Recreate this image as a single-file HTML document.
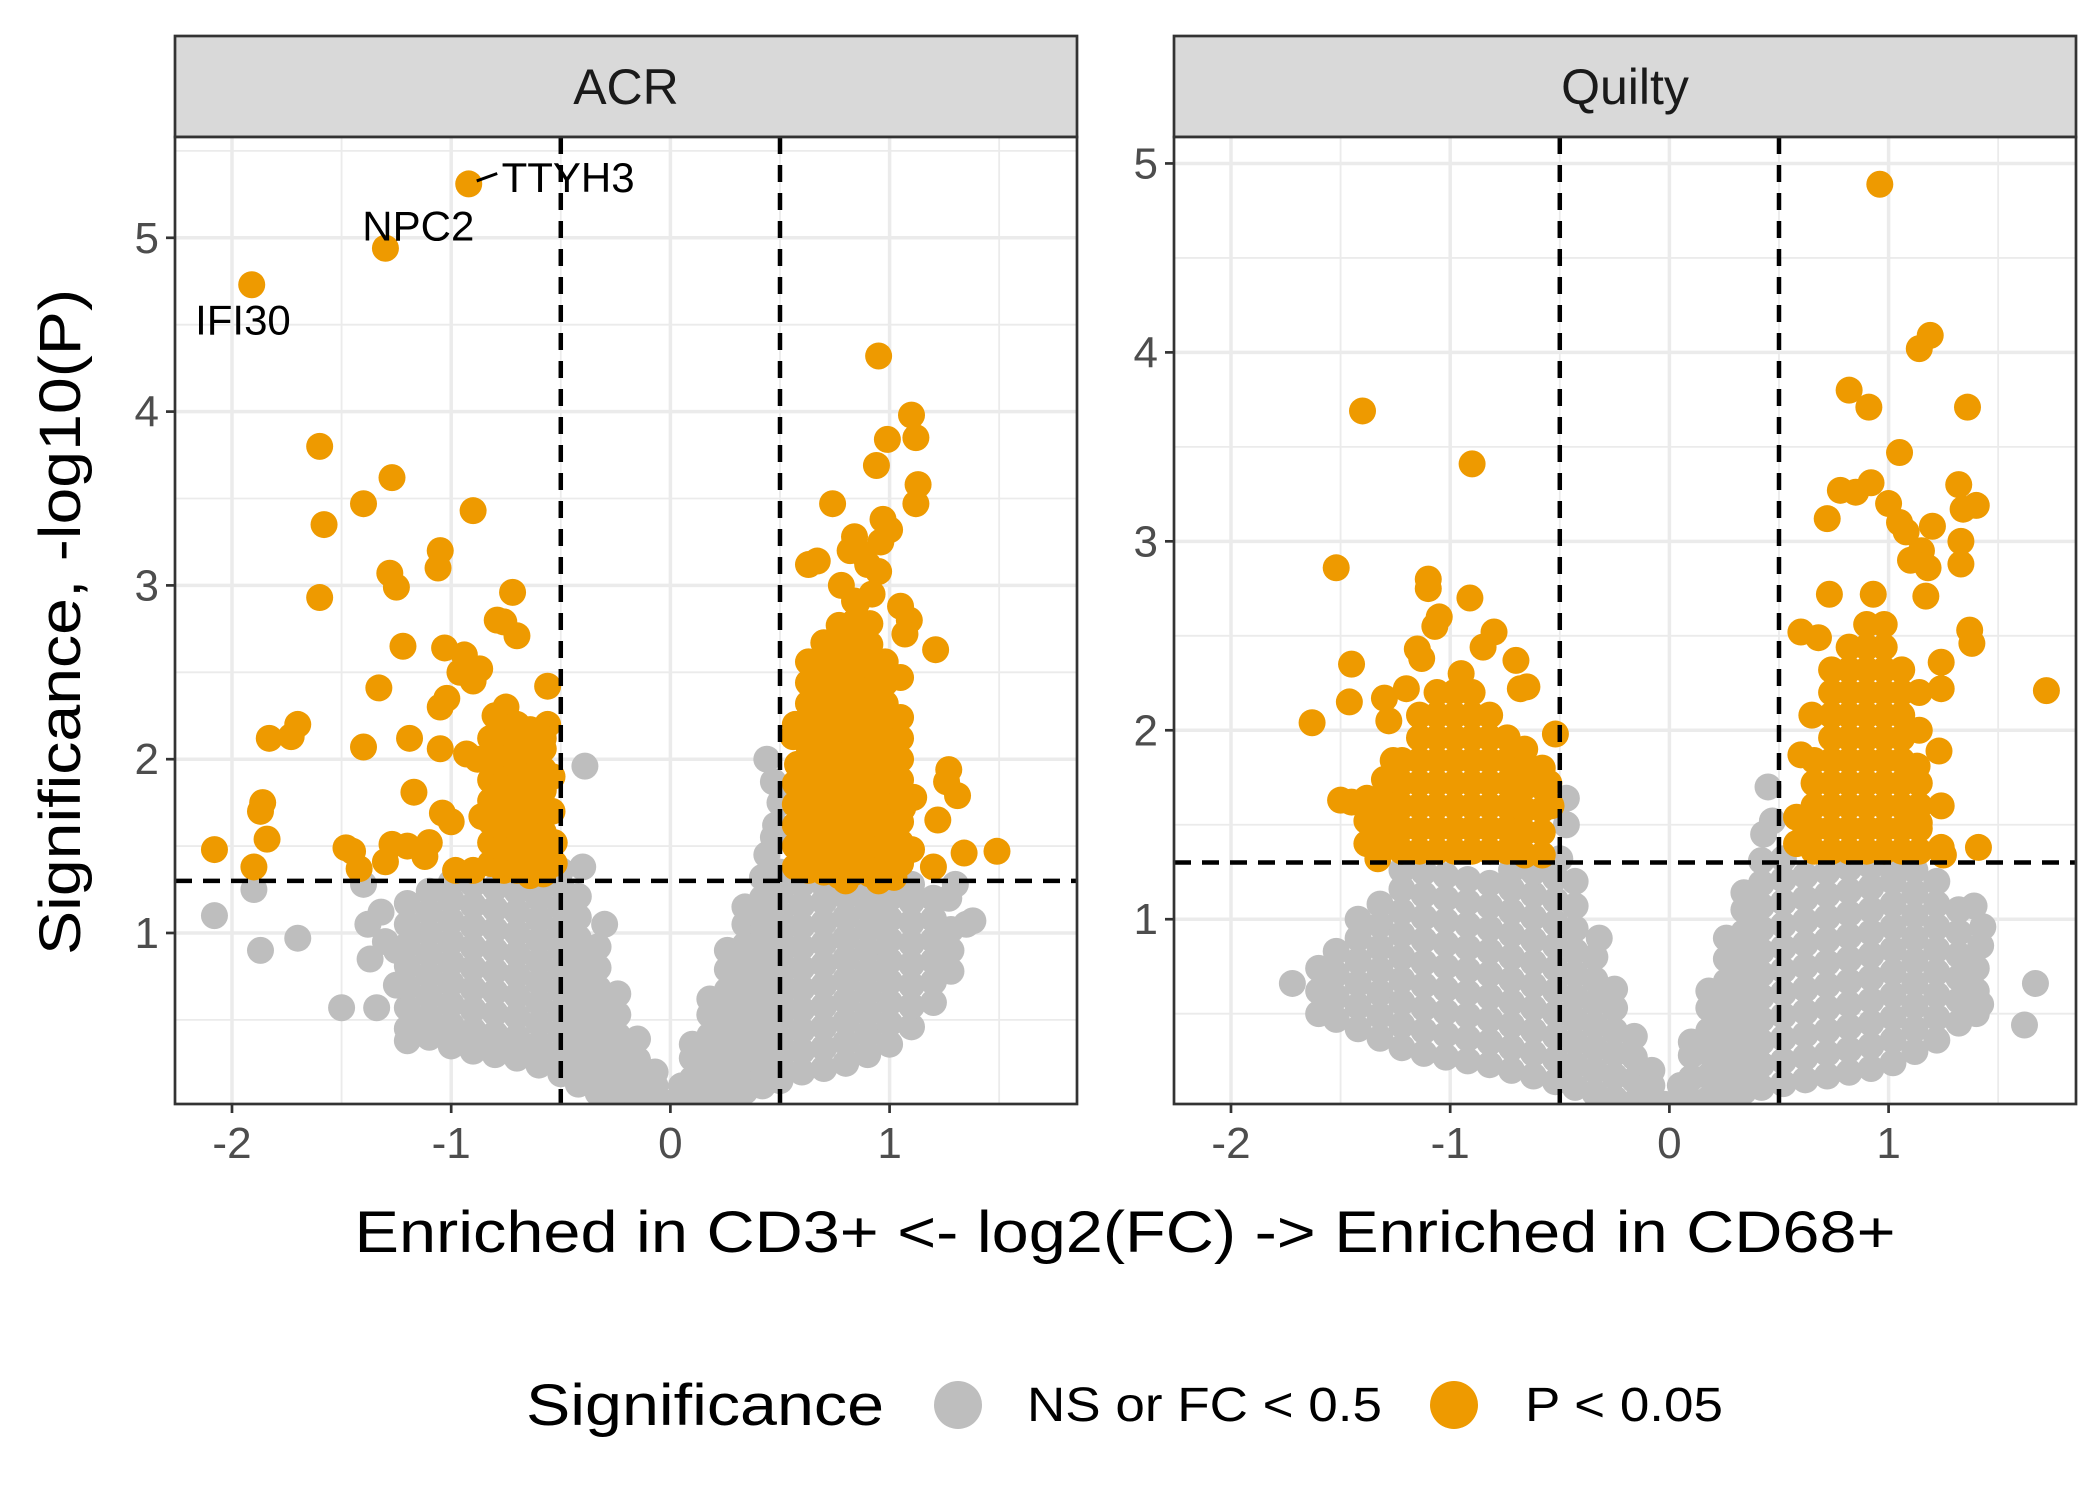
<!DOCTYPE html>
<html><head><meta charset="utf-8"><style>
body{margin:0;background:#fff;}
svg{display:block;font-family:"Liberation Sans",Arial,sans-serif;}
</style></head><body>
<svg id="chart" width="2100" height="1500" viewBox="0 0 2100 1500" xmlns="http://www.w3.org/2000/svg"></svg>
<script>
// ---------------- DATA ----------------
const panelTitles = ["ACR", "Quilty"];
const xTicks = [-2, -1, 0, 1];
const yTicks = [1, 2, 3, 4, 5];
const fcCut = 0.5;
const pCut = 1.3;
const legendLabels = ["NS or FC < 0.5", "P < 0.05"];
const labelGenes = ["IFI30", "NPC2", "TTYH3"];
const labelGeneXY = [[-1.91, 4.73], [-1.30, 4.94], [-0.92, 5.31]];

const acrGrayStr =
"-1.2,0.45 -1.2,0.57 -1.2,0.69 -1.2,0.81 -1.2,0.93 -1.2,1.05 -1.2,1.17 " +
"-1.1,0.4 -1.1,0.52 -1.1,0.64 -1.1,0.76 -1.1,0.88 -1.1,1.0 -1.1,1.12 -1.1,1.24 " +
"-1.0,0.35 -1.0,0.47 -1.0,0.59 -1.0,0.71 -1.0,0.83 -1.0,0.95 -1.0,1.07 -1.0,1.19 -1.0,1.29 " +
"-0.9,0.32 -0.9,0.44 -0.9,0.56 -0.9,0.68 -0.9,0.8 -0.9,0.92 -0.9,1.04 -0.9,1.16 -0.9,1.28 " +
"-0.8,0.3 -0.8,0.42 -0.8,0.54 -0.8,0.66 -0.8,0.78 -0.8,0.9 -0.8,1.02 -0.8,1.14 -0.8,1.26 " +
"-0.7,0.28 -0.7,0.4 -0.7,0.52 -0.7,0.64 -0.7,0.76 -0.7,0.88 -0.7,1.0 -0.7,1.12 -0.7,1.24 " +
"-0.6,0.24 -0.6,0.36 -0.6,0.48 -0.6,0.6 -0.6,0.72 -0.6,0.84 -0.6,0.96 -0.6,1.08 -0.6,1.2 -0.6,1.3 " +
"-0.5,0.19 -0.5,0.31 -0.5,0.43 -0.5,0.55 -0.5,0.67 -0.5,0.79 -0.5,0.91 -0.5,1.03 -0.5,1.15 -0.5,1.27 -0.5,1.36 " +
"-0.42,0.13 -0.42,0.25 -0.42,0.37 -0.42,0.49 -0.42,0.61 -0.42,0.73 -0.42,0.85 -0.42,0.97 -0.42,1.09 -0.42,1.21 -0.4,1.38 -0.39,1.96 " +
"-0.33,0.08 -0.33,0.2 -0.33,0.32 -0.33,0.44 -0.33,0.56 -0.33,0.68 -0.33,0.8 -0.33,0.92 -0.3,1.05 " +
"-0.24,0.05 -0.24,0.17 -0.24,0.29 -0.24,0.41 -0.24,0.53 -0.24,0.65 " +
"-0.15,0.03 -0.15,0.15 -0.15,0.27 -0.15,0.39 -0.07,0.02 -0.07,0.12 -0.07,0.2 -0.02,0.02 " +
"-1.15,0.46 -1.05,0.42 -0.95,0.38 -0.85,0.36 -0.75,0.34 -0.65,0.3 -0.55,0.26 -1.25,0.7 -1.25,0.9 " +
"0.05,0.02 0.05,0.12 0.1,0.04 0.1,0.16 0.1,0.28 0.1,0.36 " +
"0.18,0.05 0.18,0.17 0.18,0.29 0.18,0.41 0.18,0.53 0.18,0.62 " +
"0.26,0.07 0.26,0.19 0.26,0.31 0.26,0.43 0.26,0.55 0.26,0.67 0.26,0.79 0.26,0.9 " +
"0.34,0.09 0.34,0.21 0.34,0.33 0.34,0.45 0.34,0.57 0.34,0.69 0.34,0.81 0.34,0.93 0.34,1.05 0.34,1.15 " +
"0.42,0.12 0.42,0.24 0.42,0.36 0.42,0.48 0.42,0.6 0.42,0.72 0.42,0.84 0.42,0.96 0.42,1.08 0.42,1.2 0.42,1.32 0.44,1.45 " +
"0.44,2.0 0.47,1.87 0.5,1.75 0.48,1.62 0.47,1.55 " +
"0.5,0.15 0.5,0.27 0.5,0.39 0.5,0.51 0.5,0.63 0.5,0.75 0.5,0.87 0.5,0.99 0.5,1.11 0.5,1.23 0.5,1.35 " +
"0.6,0.2 0.6,0.32 0.6,0.44 0.6,0.56 0.6,0.68 0.6,0.8 0.6,0.92 0.6,1.04 0.6,1.16 0.6,1.28 " +
"0.7,0.22 0.7,0.34 0.7,0.46 0.7,0.58 0.7,0.7 0.7,0.82 0.7,0.94 0.7,1.06 0.7,1.18 0.7,1.28 " +
"0.8,0.25 0.8,0.37 0.8,0.49 0.8,0.61 0.8,0.73 0.8,0.85 0.8,0.97 0.8,1.09 0.8,1.21 0.8,1.29 " +
"0.9,0.3 0.9,0.42 0.9,0.54 0.9,0.66 0.9,0.78 0.9,0.9 0.9,1.02 0.9,1.14 0.9,1.26 " +
"1.0,0.36 1.0,0.48 1.0,0.6 1.0,0.72 1.0,0.84 1.0,0.96 1.0,1.08 1.0,1.2 1.0,1.29 " +
"1.1,0.46 1.1,0.58 1.1,0.7 1.1,0.82 1.1,0.94 1.1,1.06 1.1,1.18 1.1,1.28 " +
"1.2,0.6 1.2,0.72 1.2,0.84 1.2,0.96 1.2,1.08 1.2,1.2 1.28,0.78 1.28,0.9 1.28,1.02 1.27,1.2 1.3,1.28 " +
"1.35,1.05 1.38,1.07 1.25,0.9 " +
"-2.08,1.1 -1.9,1.25 -1.87,0.9 -1.7,0.97 -1.5,0.57 -1.34,0.57 -1.2,0.38 -1.38,1.05 -1.37,0.85 -1.4,1.28 -1.32,1.12 -1.3,0.95";

const acrOrangeStr =
"-1.91,4.73 -1.3,4.94 -0.92,5.31 -1.6,3.8 -1.58,3.35 -1.6,2.93 -1.4,3.47 -1.27,3.62 -1.28,3.07 -1.25,2.99 " +
"-1.22,2.65 -1.33,2.41 -1.4,2.07 -1.19,2.12 -1.17,1.81 -1.05,3.2 -1.06,3.1 -0.9,3.43 -0.72,2.96 -0.76,2.79 " +
"-0.79,2.8 -0.7,2.71 -1.03,2.64 -0.94,2.6 -0.96,2.5 -0.87,2.52 -1.02,2.35 -1.05,2.3 -0.9,2.45 -0.56,2.42 " +
"-1.05,2.06 -0.93,2.03 -0.88,2.0 -1.83,2.12 -1.7,2.2 -1.73,2.13 -1.86,1.75 -1.87,1.7 -1.84,1.54 -2.08,1.48 " +
"-1.9,1.38 -1.48,1.49 -1.45,1.47 -1.42,1.37 -1.3,1.41 -1.27,1.51 -1.2,1.5 -1.1,1.52 -1.12,1.44 -1.04,1.69 " +
"-1.0,1.64 -0.98,1.36 -0.86,1.67 -0.9,1.36 -0.75,1.55 -0.65,1.4 -0.56,2.2 -0.58,2.12 -0.75,2.3 -0.8,2.25 " +
"-0.82,1.4 -0.82,1.52 -0.82,1.64 -0.82,1.76 -0.82,1.88 -0.82,2.0 -0.82,2.12 " +
"-0.76,1.36 -0.76,1.48 -0.76,1.6 -0.76,1.72 -0.76,1.84 -0.76,1.96 -0.76,2.08 -0.76,2.2 " +
"-0.7,1.36 -0.7,1.48 -0.7,1.6 -0.7,1.72 -0.7,1.84 -0.7,1.96 -0.7,2.08 -0.7,2.2 " +
"-0.64,1.33 -0.64,1.45 -0.64,1.57 -0.64,1.69 -0.64,1.81 -0.64,1.93 -0.64,2.05 -0.64,2.17 " +
"-0.58,1.34 -0.58,1.46 -0.58,1.58 -0.58,1.7 -0.58,1.82 -0.58,1.94 -0.58,2.06 -0.53,1.4 -0.53,1.52 -0.54,1.7 -0.54,1.9 " +
"0.95,4.32 1.1,3.98 1.12,3.85 0.99,3.84 0.94,3.69 1.13,3.58 1.12,3.47 0.74,3.47 0.97,3.38 1.0,3.32 0.84,3.28 " +
"0.82,3.2 0.88,3.18 0.96,3.25 0.63,3.12 0.67,3.14 0.78,3.0 0.85,2.9 1.05,2.88 1.09,2.8 1.07,2.72 1.21,2.63 " +
"1.05,2.47 1.27,1.94 1.26,1.87 1.31,1.79 1.22,1.65 1.11,1.78 1.06,1.72 1.49,1.47 1.34,1.46 1.2,1.38 1.1,1.48 " +
"0.57,2.2 0.56,2.13 0.58,1.97 0.95,3.08 0.9,3.12 0.92,2.95 " +
"0.57,1.38 0.57,1.5 0.57,1.62 0.57,1.74 0.57,1.86 " +
"0.63,1.36 0.63,1.48 0.63,1.6 0.63,1.72 0.63,1.84 0.63,1.96 0.63,2.08 0.63,2.2 0.63,2.32 0.63,2.44 0.63,2.56 " +
"0.7,1.35 0.7,1.47 0.7,1.59 0.7,1.71 0.7,1.83 0.7,1.95 0.7,2.07 0.7,2.19 0.7,2.31 0.7,2.43 0.7,2.55 0.7,2.67 " +
"0.77,1.33 0.77,1.45 0.77,1.57 0.77,1.69 0.77,1.81 0.77,1.93 0.77,2.05 0.77,2.17 0.77,2.29 0.77,2.41 0.77,2.53 0.77,2.65 0.77,2.77 " +
"0.84,1.35 0.84,1.47 0.84,1.59 0.84,1.71 0.84,1.83 0.84,1.95 0.84,2.07 0.84,2.19 0.84,2.31 0.84,2.43 0.84,2.55 0.84,2.67 0.84,2.79 0.84,2.91 " +
"0.91,1.34 0.91,1.46 0.91,1.58 0.91,1.7 0.91,1.82 0.91,1.94 0.91,2.06 0.91,2.18 0.91,2.3 0.91,2.42 0.91,2.54 0.91,2.66 0.91,2.78 " +
"0.98,1.36 0.98,1.48 0.98,1.6 0.98,1.72 0.98,1.84 0.98,1.96 0.98,2.08 0.98,2.2 0.98,2.32 0.98,2.44 0.98,2.56 " +
"1.05,1.4 1.05,1.52 1.05,1.64 1.05,1.76 1.05,1.88 1.05,2.0 1.05,2.12 1.05,2.24 0.8,1.3 0.95,1.3 1.02,1.32";

const quiltyGrayStr =
"-1.72,0.66 -1.6,0.5 -1.6,0.62 -1.6,0.74 -1.52,0.47 -1.52,0.59 -1.52,0.71 -1.52,0.83 " +
"-1.42,0.42 -1.42,0.54 -1.42,0.66 -1.42,0.78 -1.42,0.9 -1.42,1.0 " +
"-1.32,0.37 -1.32,0.49 -1.32,0.61 -1.32,0.73 -1.32,0.85 -1.32,0.97 -1.32,1.08 " +
"-1.22,0.32 -1.22,0.44 -1.22,0.56 -1.22,0.68 -1.22,0.8 -1.22,0.92 -1.22,1.04 -1.22,1.16 -1.22,1.26 " +
"-1.12,0.29 -1.12,0.41 -1.12,0.53 -1.12,0.65 -1.12,0.77 -1.12,0.89 -1.12,1.01 -1.12,1.13 -1.12,1.25 " +
"-1.02,0.27 -1.02,0.39 -1.02,0.51 -1.02,0.63 -1.02,0.75 -1.02,0.87 -1.02,0.99 -1.02,1.11 -1.02,1.23 " +
"-0.92,0.25 -0.92,0.37 -0.92,0.49 -0.92,0.61 -0.92,0.73 -0.92,0.85 -0.92,0.97 -0.92,1.09 -0.92,1.21 " +
"-0.82,0.23 -0.82,0.35 -0.82,0.47 -0.82,0.59 -0.82,0.71 -0.82,0.83 -0.82,0.95 -0.82,1.07 -0.82,1.19 " +
"-0.72,0.2 -0.72,0.32 -0.72,0.44 -0.72,0.56 -0.72,0.68 -0.72,0.8 -0.72,0.92 -0.72,1.04 -0.72,1.16 -0.72,1.26 " +
"-0.62,0.17 -0.62,0.29 -0.62,0.41 -0.62,0.53 -0.62,0.65 -0.62,0.77 -0.62,0.89 -0.62,1.01 -0.62,1.13 -0.62,1.25 " +
"-0.52,0.14 -0.52,0.26 -0.52,0.38 -0.52,0.5 -0.52,0.62 -0.52,0.74 -0.52,0.86 -0.52,0.98 -0.52,1.1 -0.52,1.22 -0.5,1.32 " +
"-0.47,1.5 -0.47,1.64 -0.43,0.11 -0.43,0.23 -0.43,0.35 -0.43,0.47 -0.43,0.59 -0.43,0.71 -0.43,0.83 -0.43,0.95 -0.43,1.07 -0.43,1.2 " +
"-0.34,0.08 -0.34,0.2 -0.34,0.32 -0.34,0.44 -0.34,0.56 -0.34,0.68 -0.34,0.8 -0.32,0.9 " +
"-0.25,0.05 -0.25,0.17 -0.25,0.29 -0.25,0.41 -0.25,0.53 -0.25,0.63 " +
"-0.16,0.03 -0.16,0.15 -0.16,0.27 -0.16,0.38 -0.08,0.02 -0.08,0.12 -0.08,0.2 -0.02,0.02 " +
"0.05,0.02 0.05,0.12 0.1,0.04 0.1,0.16 0.1,0.28 0.1,0.35 " +
"0.18,0.05 0.18,0.17 0.18,0.29 0.18,0.41 0.18,0.53 0.18,0.62 " +
"0.26,0.07 0.26,0.19 0.26,0.31 0.26,0.43 0.26,0.55 0.26,0.67 0.26,0.79 0.26,0.9 " +
"0.34,0.09 0.34,0.21 0.34,0.33 0.34,0.45 0.34,0.57 0.34,0.69 0.34,0.81 0.34,0.93 0.34,1.05 0.34,1.14 " +
"0.42,0.11 0.42,0.23 0.42,0.35 0.42,0.47 0.42,0.59 0.42,0.71 0.42,0.83 0.42,0.95 0.42,1.07 0.42,1.19 0.42,1.31 0.43,1.45 0.45,1.7 0.47,1.52 " +
"0.52,0.13 0.52,0.25 0.52,0.37 0.52,0.49 0.52,0.61 0.52,0.73 0.52,0.85 0.52,0.97 0.52,1.09 0.52,1.21 0.52,1.32 " +
"0.62,0.15 0.62,0.27 0.62,0.39 0.62,0.51 0.62,0.63 0.62,0.75 0.62,0.87 0.62,0.99 0.62,1.11 0.62,1.23 " +
"0.72,0.17 0.72,0.29 0.72,0.41 0.72,0.53 0.72,0.65 0.72,0.77 0.72,0.89 0.72,1.01 0.72,1.13 0.72,1.25 " +
"0.82,0.19 0.82,0.31 0.82,0.43 0.82,0.55 0.82,0.67 0.82,0.79 0.82,0.91 0.82,1.03 0.82,1.15 0.82,1.27 " +
"0.92,0.21 0.92,0.33 0.92,0.45 0.92,0.57 0.92,0.69 0.92,0.81 0.92,0.93 0.92,1.05 0.92,1.17 0.92,1.28 " +
"1.02,0.24 1.02,0.36 1.02,0.48 1.02,0.6 1.02,0.72 1.02,0.84 1.02,0.96 1.02,1.08 1.02,1.2 1.02,1.29 " +
"1.12,0.3 1.12,0.42 1.12,0.54 1.12,0.66 1.12,0.78 1.12,0.9 1.12,1.02 1.12,1.14 1.12,1.26 " +
"1.22,0.36 1.22,0.48 1.22,0.6 1.22,0.72 1.22,0.84 1.22,0.96 1.22,1.08 1.22,1.2 " +
"1.32,0.45 1.32,0.57 1.32,0.69 1.32,0.81 1.32,0.93 1.32,1.05 1.4,0.5 1.4,0.62 1.4,0.74 1.42,0.86 " +
"1.62,0.44 1.67,0.66 1.39,1.07 1.43,0.96 1.42,0.55";

const quiltyOrangeStr =
"-1.4,3.69 -0.9,3.41 -1.52,2.86 -1.63,2.04 -1.45,2.35 -1.46,2.15 -1.1,2.8 -1.1,2.75 -0.91,2.7 -1.05,2.6 " +
"-1.07,2.55 -0.8,2.52 -0.85,2.44 -0.7,2.37 -0.65,2.23 -0.68,2.22 -1.3,2.17 -1.28,2.05 -1.26,1.84 -1.5,1.63 " +
"-0.52,1.98 -0.55,1.72 -0.54,1.6 -1.33,1.32 -1.45,1.62 -1.2,2.22 -1.15,2.43 -1.13,2.38 -0.95,2.3 -0.98,2.2 " +
"-1.38,1.4 -1.38,1.52 -1.38,1.64 -1.3,1.38 -1.3,1.5 -1.3,1.62 -1.3,1.74 " +
"-1.22,1.36 -1.22,1.48 -1.22,1.6 -1.22,1.72 -1.22,1.84 " +
"-1.14,1.36 -1.14,1.48 -1.14,1.6 -1.14,1.72 -1.14,1.84 -1.14,1.96 -1.14,2.08 " +
"-1.06,1.36 -1.06,1.48 -1.06,1.6 -1.06,1.72 -1.06,1.84 -1.06,1.96 -1.06,2.08 -1.06,2.2 " +
"-0.98,1.36 -0.98,1.48 -0.98,1.6 -0.98,1.72 -0.98,1.84 -0.98,1.96 -0.98,2.08 " +
"-0.9,1.36 -0.9,1.48 -0.9,1.6 -0.9,1.72 -0.9,1.84 -0.9,1.96 -0.9,2.08 -0.9,2.2 " +
"-0.82,1.36 -0.82,1.48 -0.82,1.6 -0.82,1.72 -0.82,1.84 -0.82,1.96 -0.82,2.08 " +
"-0.74,1.36 -0.74,1.48 -0.74,1.6 -0.74,1.72 -0.74,1.84 -0.74,1.96 " +
"-0.66,1.34 -0.66,1.46 -0.66,1.58 -0.66,1.7 -0.66,1.82 -0.66,1.9 " +
"-0.58,1.34 -0.58,1.46 -0.58,1.58 -0.58,1.7 -0.58,1.8 " +
"0.96,4.89 1.19,4.09 1.14,4.02 0.82,3.8 0.91,3.71 1.36,3.71 1.05,3.47 0.92,3.31 0.78,3.27 0.85,3.26 " +
"1.32,3.3 1.4,3.19 1.34,3.17 1.0,3.2 0.72,3.12 1.2,3.08 1.05,3.1 1.08,3.05 1.15,2.95 1.33,3.0 1.33,2.88 " +
"1.18,2.86 1.1,2.9 0.73,2.72 0.93,2.72 1.17,2.71 0.6,2.52 0.68,2.49 1.37,2.53 1.38,2.46 1.72,2.21 1.24,2.36 " +
"1.24,2.22 1.23,1.89 1.24,1.6 1.41,1.38 1.25,1.34 1.24,1.38 0.65,2.08 0.6,1.87 0.58,1.54 1.13,1.81 1.14,1.51 " +
"0.58,1.4 0.62,1.45 0.66,1.36 0.66,1.48 0.66,1.6 0.66,1.72 0.66,1.84 " +
"0.74,1.36 0.74,1.48 0.74,1.6 0.74,1.72 0.74,1.84 0.74,1.96 0.74,2.08 0.74,2.2 0.74,2.32 " +
"0.82,1.36 0.82,1.48 0.82,1.6 0.82,1.72 0.82,1.84 0.82,1.96 0.82,2.08 0.82,2.2 0.82,2.32 0.82,2.44 " +
"0.9,1.36 0.9,1.48 0.9,1.6 0.9,1.72 0.9,1.84 0.9,1.96 0.9,2.08 0.9,2.2 0.9,2.32 0.9,2.44 0.9,2.56 " +
"0.98,1.36 0.98,1.48 0.98,1.6 0.98,1.72 0.98,1.84 0.98,1.96 0.98,2.08 0.98,2.2 0.98,2.32 0.98,2.44 0.98,2.56 " +
"1.06,1.36 1.06,1.48 1.06,1.6 1.06,1.72 1.06,1.84 1.06,1.96 1.06,2.08 1.06,2.2 1.06,2.32 " +
"1.14,1.36 1.14,1.48 1.14,1.6 1.14,1.72 1.14,2.0 1.14,2.2";

function parsePts(s){ return s.trim().split(/\s+/).map(p => p.split(',').map(Number)); }
const acrGray = parsePts(acrGrayStr);
const acrOrange = parsePts(acrOrangeStr);
const quiltyGray = parsePts(quiltyGrayStr);
const quiltyOrange = parsePts(quiltyOrangeStr);

// ---------------- LAYOUT ----------------
const NS = "http://www.w3.org/2000/svg";
const svg = document.getElementById('chart');
const GRAY = "#bebebe", ORANGE = "#ee9a00";
const R = 13.5;
function el(tag, attrs, parent){
  const e = document.createElementNS(NS, tag);
  for (const k in attrs) e.setAttribute(k, attrs[k]);
  (parent || svg).appendChild(e);
  return e;
}
const panels = [
  {left:175, right:1077, top:137, bottom:1104, xmin:-2.26, xmax:1.855, ymin:0.016, ymax:5.58,
   gray:acrGray, orange:acrOrange, labels:true, minorY:[0.5,1.5,2.5,3.5,4.5,5.5]},
  {left:1174, right:2076, top:137, bottom:1104, xmin:-2.26, xmax:1.855, ymin:0.022, ymax:5.14,
   gray:quiltyGray, orange:quiltyOrange, labels:false, minorY:[0.5,1.5,2.5,3.5,4.5]}
];
const minorX = [-1.5,-0.5,0.5,1.5];

panels.forEach((p, i) => {
  const sx = v => p.left + (v - p.xmin) / (p.xmax - p.xmin) * (p.right - p.left);
  const sy = v => p.bottom - (v - p.ymin) / (p.ymax - p.ymin) * (p.bottom - p.top);
  const g = el('g', {});
  
  

  const strip = el('rect', {x:p.left, y:36, width:p.right-p.left, height:p.top-36, fill:'#d9d9d9', stroke:'#333', 'stroke-width':2.7}, g);
  
  
  const st = el('text', {x:(p.left+p.right)/2, y:104, 'text-anchor':'middle', 'font-size':50, fill:'#1a1a1a'}, g);
  st.textContent = panelTitles[i];
  
  

  const bg = el('rect', {x:p.left, y:p.top, width:p.right-p.left, height:p.bottom-p.top, fill:'#fff'}, g);
  
  
  const clipId = 'clip' + i;
  const cp = el('clipPath', {id:clipId}, g);
  el('rect', {x:p.left, y:p.top, width:p.right-p.left, height:p.bottom-p.top}, cp);

  const grid = el('g', {'clip-path':'url(#'+clipId+')'}, g);
  
  
  minorX.forEach(v => el('line', {x1:sx(v), x2:sx(v), y1:p.top, y2:p.bottom, stroke:'#ebebeb', 'stroke-width':1.8}, grid));
  p.minorY.forEach(v => el('line', {x1:p.left, x2:p.right, y1:sy(v), y2:sy(v), stroke:'#ebebeb', 'stroke-width':1.8}, grid));
  xTicks.forEach(v => el('line', {x1:sx(v), x2:sx(v), y1:p.top, y2:p.bottom, stroke:'#ebebeb', 'stroke-width':3.5}, grid));
  yTicks.filter(v => v <= p.ymax).forEach(v => el('line', {x1:p.left, x2:p.right, y1:sy(v), y2:sy(v), stroke:'#ebebeb', 'stroke-width':3.5}, grid));

  const pts = el('g', {'clip-path':'url(#'+clipId+')'}, g);
  p.gray.forEach(d => {
    const c = el('circle', {cx:sx(d[0]), cy:sy(d[1]), r:R, fill:GRAY}, pts);
    
    
  });
  p.orange.forEach(d => {
    const c = el('circle', {cx:sx(d[0]), cy:sy(d[1]), r:R, fill:ORANGE}, pts);
    
    
  });

  [-fcCut, fcCut].forEach(v => {
    const l = el('line', {x1:sx(v), x2:sx(v), y1:p.top, y2:p.bottom, stroke:'#000', 'stroke-width':4.5, 'stroke-dasharray':'17,11'}, g);
    
    
  });
  const hl = el('line', {x1:p.left, x2:p.right, y1:sy(pCut), y2:sy(pCut), stroke:'#000', 'stroke-width':4.5, 'stroke-dasharray':'17,11'}, g);
  
  

  if (p.labels) {
    const lx = labelGeneXY;
    const anchors = [[-1.91-0.04, 4.73-0.2,'middle'],[-1.3+0.15, 4.94+0.13,'middle'],[-0.92+0.15, 5.31+0.04,'start']];
    labelGenes.forEach((name, k) => {
      const t = el('text', {x:sx(anchors[k][0]), y:sy(anchors[k][1])+15, 'text-anchor':anchors[k][2], 'font-size':42, fill:'#000'}, g);
      t.textContent = name;
      
      
    });
    el('line', {x1:sx(lx[2][0])+8, y1:sy(lx[2][1])-3, x2:sx(lx[2][0]+0.13), y2:sy(lx[2][1]+0.06), stroke:'#000', 'stroke-width':3}, g);
  }

  const bd = el('rect', {x:p.left, y:p.top, width:p.right-p.left, height:p.bottom-p.top, fill:'none', stroke:'#333', 'stroke-width':2.7}, g);
  
  

  xTicks.forEach(v => {
    el('line', {x1:sx(v), x2:sx(v), y1:p.bottom, y2:p.bottom+9, stroke:'#333', 'stroke-width':2.7}, g);
    const t = el('text', {x:sx(v), y:p.bottom+54, 'text-anchor':'middle', 'font-size':44, fill:'#4d4d4d'}, g);
    t.textContent = v;
    
    
  });
  yTicks.filter(v => v <= p.ymax).forEach(v => {
    el('line', {x1:p.left-9, x2:p.left, y1:sy(v), y2:sy(v), stroke:'#333', 'stroke-width':2.7}, g);
    const t = el('text', {x:p.left-16, y:sy(v)+15, 'text-anchor':'end', 'font-size':44, fill:'#4d4d4d'}, g);
    t.textContent = v;
    
    
  });
});

const yt = el('text', {x:0, y:0, transform:'translate(80,622) rotate(-90)', 'text-anchor':'middle', 'font-size':58, fill:'#000', textLength:666, lengthAdjust:'spacingAndGlyphs'}, svg);
yt.textContent = 'Significance, -log10(P)';


const xt = el('text', {x:1125, y:1252, 'text-anchor':'middle', 'font-size':58, fill:'#000', textLength:1541, lengthAdjust:'spacingAndGlyphs'}, svg);
xt.textContent = 'Enriched in CD3+ <- log2(FC) -> Enriched in CD68+';



const lg = el('g', {}, svg);


const lt = el('text', {x:526, y:1425, 'font-size':58, fill:'#000', textLength:358, lengthAdjust:'spacingAndGlyphs'}, lg);
lt.textContent = 'Significance';


const legX = [958, 1454], legTX = [1027, 1525], legW = [355, 198], legC = [GRAY, ORANGE];
legendLabels.forEach((name, k) => {
  const c = el('circle', {cx:legX[k], cy:1405, r:24, fill:legC[k]}, lg);
  
  
  const t = el('text', {x:legTX[k], y:1421, 'font-size':48, fill:'#000', textLength:legW[k], lengthAdjust:'spacingAndGlyphs'}, lg);
  t.textContent = name;
  
  
});
</script>
</body></html>
